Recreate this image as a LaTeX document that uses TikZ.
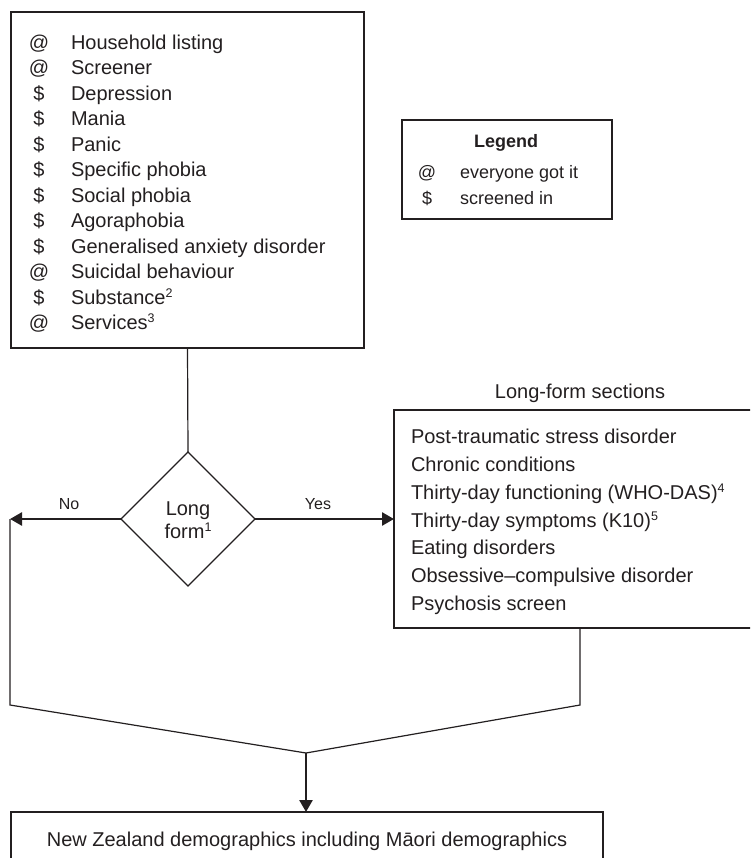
\documentclass[tikz,border=0pt]{standalone}
\usepackage{fontspec}
\setmainfont{Liberation Sans}
\usepackage{array}
\usetikzlibrary{shapes.geometric,arrows.meta}
\definecolor{ink}{HTML}{231F20}
\newcommand\supnum[1]{\raisebox{7pt}{\fontsize{12.5}{12.5}\selectfont #1}}
\begin{document}
\begin{tikzpicture}[x=1pt,y=-1pt,
  box/.style={draw=ink, line width=1.2pt, rectangle, inner sep=0pt, outer sep=0pt},
  thinline/.style={draw=ink, line width=1.2pt},
  thickarrow/.style={draw=ink, line width=2.6pt, -{Triangle[length=12pt,width=13pt]}},
  txt/.style={text=ink, inner sep=0pt, outer sep=0pt, font=\fontsize{20}{25.5}\selectfont},
  lbl/.style={text=ink, inner sep=0pt, outer sep=0pt, font=\fontsize{20}{24}\selectfont, anchor=base},
  small/.style={text=ink, inner sep=0pt, outer sep=0pt, font=\fontsize{16}{18}\selectfont, anchor=base},
]
\useasboundingbox (0,0) rectangle (750,858);
\clip (0,0) rectangle (750,858);

% top list box
\node[box, minimum width=353pt, minimum height=336pt, anchor=north west] (list) at (11,12) {};
\node[txt, anchor=north west] (listtext) at (29,31.2) {%
\begin{tabular}{@{}wc{20pt}@{\hspace{22pt}}l@{}}
@ & Household listing\\
@ & Screener\\
\$ & Depression\\
\$ & Mania\\
\$ & Panic\\
\$ & Specific phobia\\
\$ & Social phobia\\
\$ & Agoraphobia\\
\$ & Generalised anxiety disorder\\
@ & Suicidal behaviour\\
\$ & Substance\supnum{2}\\
@ & Services\supnum{3}
\end{tabular}};

% legend
\node[draw=ink, line width=2.4pt, rectangle, inner sep=0pt, minimum width=210pt, minimum height=99pt, anchor=north west] (legend) at (401,119) {};
\node[text=ink, inner sep=0pt, font=\fontsize{18}{22}\selectfont\bfseries, anchor=base] (legtitle) at (506,148) {Legend};
\node[txt, font=\fontsize{18}{26}\selectfont, anchor=north west] (legrows) at (417,160.8) {%
\begin{tabular}{@{}wc{20pt}@{\hspace{23pt}}l@{}}
@ & everyone got it\\
\$ & screened in
\end{tabular}};

% decision diamond
\node[diamond, draw=ink, line width=1.2pt, aspect=1, minimum width=134pt, minimum height=134pt, inner sep=0pt, outer sep=0pt] (dec) at (188,519) {};
\node[text=ink, inner sep=0pt, font=\fontsize{20}{23}\selectfont, anchor=base] (dectext) at (188,515) {%
\begin{tabular}[t]{@{}c@{}}Long\\form\supnum{1}\end{tabular}};

% long-form sections
\node[lbl] (lftitle) at (580,398) {Long-form sections};
\node[box, minimum width=372pt, minimum height=218pt, anchor=north west] (lf) at (394,410) {};
\node[txt, font=\fontsize{20}{27.7}\selectfont, anchor=north west] (lftext) at (411,424.6) {%
\begin{tabular}{@{}l@{}}
Post-traumatic stress disorder\\
Chronic conditions\\
Thirty-day functioning (WHO-DAS)\supnum{4}\\
Thirty-day symptoms (K10)\supnum{5}\\
Eating disorders\\
Obsessive–compulsive disorder\\
Psychosis screen
\end{tabular}};

% bottom box
\node[box, minimum width=592pt, minimum height=70pt, anchor=north west] (demo) at (11,812) {};
\node[lbl] (demotext) at (307,846) {New Zealand demographics including Māori demographics};

% connectors
\coordinate (noend) at (10,519);
\coordinate (lc) at (10,705);
\coordinate (merge) at (306,753);
\coordinate (rc) at (lf.south |- lc);

\draw[thinline] (list.south) -- (dec.north);
\draw[thickarrow] (dec.west) -- (noend);
\draw[thickarrow] (dec.east) -- (lf.west);
\node[small] (nolab) at (69,509) {No};
\node[small] (yeslab) at (318,509) {Yes};

\draw[thinline] (noend) -- (lc) -- (merge);
\draw[thinline] (lf.south) -- (rc) -- (merge);
\draw[thickarrow] (merge) -- (merge |- demo.north);
\end{tikzpicture}
\end{document}
